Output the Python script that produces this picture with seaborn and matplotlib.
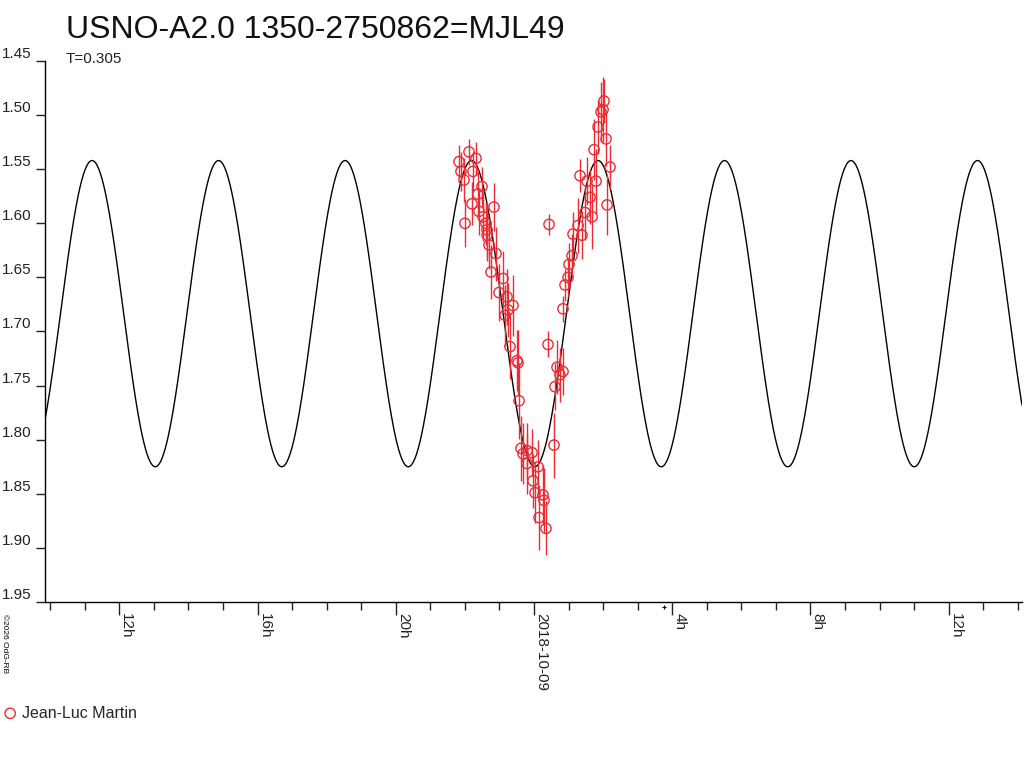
import numpy as np
import pandas as pd
import matplotlib
matplotlib.use("Agg")
import matplotlib.pyplot as plt
import seaborn as sns

# hours relative to 2018-10-09 00:00 and magnitude of each measurement
hours = [-2.171, -2.113, -2.026, -1.997, -1.881, -1.794, -1.766, -1.679, -1.621, -1.592,
         -1.505, -1.476, -1.389, -1.360, -1.360, -1.302, -1.245, -1.158, -1.100, -1.013,
         -0.897, -0.839, -0.781, -0.753, -0.695, -0.608, -0.492, -0.463, -0.434, -0.376,
         -0.318, -0.203, -0.203, -0.058, -0.029, 0.029, 0.116, 0.145, 0.260, 0.289,
         0.347, 0.405, 0.434, 0.579, 0.608, 0.666, 0.753, 0.839, 0.839, 0.897,
         0.984, 1.013, 1.100, 1.129, 1.274, 1.331, 1.389, 1.476, 1.534, 1.621,
         1.679, 1.737, 1.795, 1.852, 1.939, 1.997, 2.026, 2.084, 2.113, 2.200]
mags = [1.543, 1.552, 1.560, 1.600, 1.534, 1.582, 1.552, 1.540, 1.573, 1.589,
        1.566, 1.594, 1.600, 1.606, 1.611, 1.620, 1.645, 1.585, 1.628, 1.664,
        1.651, 1.685, 1.668, 1.680, 1.714, 1.676, 1.727, 1.729, 1.764, 1.808,
        1.813, 1.810, 1.822, 1.812, 1.838, 1.849, 1.825, 1.872, 1.851, 1.856,
        1.882, 1.712, 1.601, 1.805, 1.751, 1.733, 1.740, 1.737, 1.679, 1.657,
        1.650, 1.638, 1.630, 1.610, 1.602, 1.556, 1.611, 1.590, 1.561, 1.576,
        1.594, 1.532, 1.561, 1.511, 1.497, 1.495, 1.487, 1.522, 1.583, 1.548]
errs = [0.015, 0.018, 0.020, 0.022, 0.012, 0.020, 0.018, 0.015, 0.020, 0.022,
        0.018, 0.022, 0.020, 0.025, 0.024, 0.022, 0.025, 0.022, 0.025, 0.026,
        0.025, 0.028, 0.026, 0.025, 0.030, 0.028, 0.028, 0.030, 0.035, 0.030,
        0.028, 0.025, 0.028, 0.022, 0.025, 0.028, 0.025, 0.030, 0.028, 0.030,
        0.025, 0.012, 0.010, 0.030, 0.022, 0.025, 0.025, 0.022, 0.012, 0.015,
        0.018, 0.020, 0.020, 0.020, 0.025, 0.015, 0.022, 0.025, 0.022, 0.025,
        0.030, 0.028, 0.030, 0.025, 0.028, 0.030, 0.020, 0.025, 0.028, 0.020]

# sine fit parameters (harmonic of T)
T_days = 0.305
fit_period_h = T_days * 24 / 2
fit_mean = 1.6835
fit_amp = 0.1415
fit_peak_h = 1.852

xlim = (-14.15, 14.12)
tick_hours = [-12, -8, -4, 0, 4, 8, 12]
tick_labels = ["12h", "16h", "20h", "2018-10-09", "4h", "8h", "12h"]
yticks = [1.45, 1.50, 1.55, 1.60, 1.65, 1.70, 1.75, 1.80, 1.85, 1.90, 1.95]
epoch_mark_h = 3.76

red = "#ee2b33"

sns.set_theme(style="white")
plt.rcParams["font.family"] = ["Liberation Sans", "DejaVu Sans"]

df = pd.DataFrame({"h": hours, "mag": mags, "err": errs})
t = np.linspace(xlim[0], xlim[1], 1200)
fit = pd.DataFrame({"h": t, "mag": fit_mean - fit_amp * np.cos(2 * np.pi * (t - fit_peak_h) / fit_period_h)})

fig = plt.figure(figsize=(10.24, 7.68), dpi=100)
ax = fig.add_axes([45 / 1024, 1 - 602 / 768, (1022 - 45) / 1024, (602 - 61) / 768])

sns.lineplot(data=fit, x="h", y="mag", color="black", linewidth=1, sort=False, estimator=None, ax=ax)
ax.errorbar(df["h"], df["mag"], yerr=df["err"], fmt="none", ecolor=red, elinewidth=1, capsize=0)
sns.scatterplot(data=df, x="h", y="mag", marker="o", s=55, facecolor="none", edgecolor=red,
                linewidth=1, label="Jean-Luc Martin", ax=ax, zorder=3)

ax.set_xlim(*xlim)
ax.set_ylim(1.95, 1.45)
ax.set_xlabel("")
ax.set_ylabel("")
for s in ["top", "right"]:
    ax.spines[s].set_visible(False)
for s in ["left", "bottom"]:
    ax.spines[s].set_color("black")
    ax.spines[s].set_linewidth(1)

ax.set_yticks(yticks)
ax.set_yticklabels([f"{v:.2f}" for v in yticks], va="bottom")
ax.tick_params(axis="y", length=6.5, width=1, pad=3, labelsize=11, colors="#222222", left=True)

ax.set_xticks(tick_hours)
ax.set_xticks(range(-14, 15), minor=True)
ax.set_xticklabels(tick_labels, rotation=270, ha="left", va="top")
ax.tick_params(axis="x", which="major", length=9, width=1, pad=-1, labelsize=11,
               colors="#222222", bottom=True)
ax.tick_params(axis="x", which="minor", length=6, width=1, bottom=True, color="#222222")

ax.plot([epoch_mark_h], [-0.009], marker="+", ms=3, mew=0.8, color="black",
        transform=ax.get_xaxis_transform(), clip_on=False)

ax.legend_.remove()
handles, labels = ax.get_legend_handles_labels()
fig.legend(handles, labels, loc="center left", bbox_to_anchor=(-0.008, 1 - 713 / 768),
           frameon=False, fontsize=11.5, handletextpad=0.0, borderaxespad=0, handlelength=1.5)

fig.text(66 / 1024, 1 - 38 / 768, "USNO-A2.0 1350-2750862=MJL49", fontsize=23,
         va="baseline", ha="left", color="#111111")
fig.text(66 / 1024, 1 - 63 / 768, f"T={T_days}", fontsize=11, va="baseline", ha="left",
         color="#222222")
fig.text(1 / 1024, 1 - 614 / 768, "©2026 OdG-RB", fontsize=6, rotation=270,
         va="top", ha="left", color="black")

fig.savefig("out.png", dpi=100, facecolor="white")
